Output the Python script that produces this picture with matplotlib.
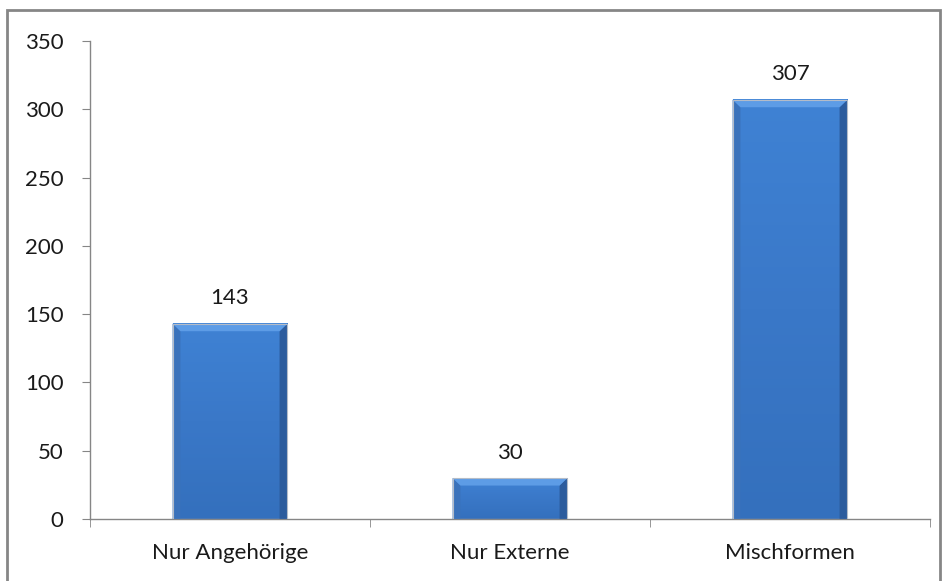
import matplotlib.pyplot as plt
import numpy as np
from matplotlib.patches import Rectangle, Polygon
from matplotlib.colors import LinearSegmentedColormap

categories = ['Nur Angehörige', 'Nur Externe', 'Mischformen']
values = [143, 30, 307]
yticks = [0, 50, 100, 150, 200, 250, 300, 350]

plt.rcParams['font.family'] = ['Lato', 'DejaVu Sans']

fig = plt.figure(figsize=(9.47, 5.81), dpi=100)
ax = fig.add_axes([90 / 947, 1 - 519 / 581, 840 / 947, 478 / 581])

# outer chart frame
fig.patches.append(Rectangle((7 / 947, -0.05), 933 / 947, 1.05 - 10 / 581,
                             transform=fig.transFigure, fill=False,
                             edgecolor='#868686', linewidth=2))

x = np.arange(len(categories))
width = 0.41
ax.set_xlim(-0.5, len(categories) - 0.5)
ax.set_ylim(0, 350)

# bar body: slightly darker toward the bottom
body = LinearSegmentedColormap.from_list('body', ['#3f82d4', '#3a78c8', '#3470bd'])
grad = np.linspace(0, 1, 256).reshape(-1, 1)

bx = 0.028  # bevel width, data units along x
by = 5.5    # bevel height, data units along y
for xi, v in zip(x, values):
    x0, x1 = xi - width / 2, xi + width / 2
    ax.imshow(grad, extent=(x0, x1, 0, v), cmap=body, aspect='auto', zorder=2)
    # side bevels
    ax.add_patch(Polygon([(x0, v), (x0 + bx, v - by), (x0 + bx, 0), (x0, 0)],
                         closed=True, facecolor='#3a72bb', edgecolor='none', zorder=3))
    ax.add_patch(Polygon([(x1, v), (x1 - bx, v - by), (x1 - bx, 0), (x1, 0)],
                         closed=True, facecolor='#2c5c9d', edgecolor='none', zorder=3))
    # top bevel
    ax.add_patch(Polygon([(x0, v), (x1, v), (x1 - bx, v - by), (x0 + bx, v - by)],
                         closed=True, facecolor='#5d9ce6', edgecolor='none', zorder=3))
    ax.add_patch(Rectangle((x0, 0), width, v, fill=False, edgecolor='#b4bcc8',
                           linewidth=0.8, zorder=4))
    ax.annotate(str(v), (xi, v), xytext=(0, 11), textcoords='offset points',
                ha='center', va='bottom', fontsize=16, color='#1a1a1a')

ax.set_yticks(yticks)
ax.set_xticks(x)
ax.set_xticklabels(categories)
ax.set_xticks(np.arange(-0.5, len(categories)), minor=True)
ax.tick_params(axis='x', which='major', length=0, pad=17, labelsize=16, colors='#1a1a1a')
ax.tick_params(axis='x', which='minor', length=6, direction='out', color='#868686')
ax.tick_params(axis='y', length=6, direction='out', color='#868686', pad=13,
               labelsize=16, labelcolor='#1a1a1a')

for side in ['top', 'right']:
    ax.spines[side].set_visible(False)
for side in ['left', 'bottom']:
    ax.spines[side].set_color('#868686')
    ax.spines[side].set_linewidth(1)

fig.savefig('out.png', dpi=100)
